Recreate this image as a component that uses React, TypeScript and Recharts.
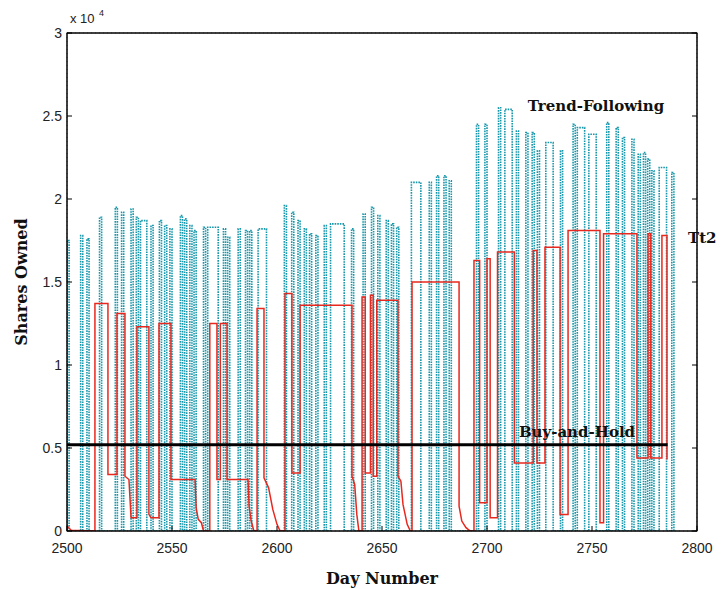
import React from "react";
import { ComposedChart, Line, XAxis, YAxis, CartesianGrid } from "recharts";

// ---- Data ----
const xTicks = [2500, 2550, 2600, 2650, 2700, 2750, 2800];
const yTicks = [0, 5000, 10000, 15000, 20000, 25000, 30000];

// Trend-Following: holding periods (start day, end day, shares held)
const tfStart = [2500, 2506.5, 2509.5, 2515.5, 2523, 2526, 2530.5, 2533, 2535, 2540, 2544, 2546.5, 2549, 2554, 2556, 2558.5, 2560.5, 2565, 2567, 2574.5, 2576.5, 2581.5, 2585, 2587, 2591, 2603.5, 2607, 2610, 2613, 2615.5, 2618.5, 2622.5, 2625.5, 2635.5, 2641, 2645, 2648, 2652, 2654.5, 2657, 2664, 2672.5, 2676, 2679.5, 2682, 2695, 2699, 2705.5, 2708.5, 2714, 2718.5, 2721.5, 2724, 2728, 2735, 2741, 2743, 2748.5, 2757, 2761.5, 2764.5, 2769, 2772, 2774.5, 2776.5, 2778.5, 2782, 2788];
const tfEnd = [2501, 2507.5, 2510.5, 2516.5, 2524, 2527, 2531.5, 2534, 2538, 2541, 2545, 2547.5, 2550, 2555, 2557, 2559.5, 2561.5, 2566, 2572, 2575.5, 2577.5, 2582.5, 2586, 2588, 2595, 2604.5, 2608, 2611, 2614, 2616.5, 2619.5, 2623.5, 2632, 2636.5, 2642, 2646, 2649, 2653, 2655.5, 2658, 2668.5, 2673.5, 2677, 2680.5, 2683, 2696, 2700, 2706.5, 2712, 2715, 2719.5, 2722.5, 2725, 2731.5, 2736, 2742, 2746.5, 2752, 2758, 2762.5, 2765.5, 2770, 2773, 2775.5, 2777.5, 2779.5, 2785.5, 2789];
const tfShares = [17500, 17800, 17600, 18900, 19500, 19200, 19400, 18900, 18700, 18400, 18700, 18400, 18200, 19000, 18800, 18400, 18100, 18300, 18300, 18200, 17700, 18200, 18100, 18100, 18200, 19600, 19200, 18700, 18200, 17900, 17800, 18400, 18500, 18200, 19100, 19500, 19000, 18700, 18500, 18300, 21000, 21000, 21400, 21400, 21100, 24500, 24500, 25500, 25400, 24100, 24000, 24000, 22900, 23400, 22900, 24500, 24300, 23900, 24600, 24300, 23700, 23600, 22700, 22800, 22400, 21700, 21900, 21600];

// Tt2 strategy: shares owned at each turning point
const redDays = [2500, 2502, 2513.3, 2513.3, 2519.5, 2519.5, 2523.8, 2523.8, 2527.6, 2527.6, 2529.5, 2530.5, 2533.3, 2533.3, 2539, 2539, 2540, 2543.8, 2543.8, 2549.5, 2549.5, 2561, 2561.5, 2562.5, 2564, 2565, 2568, 2568, 2571.4, 2571.4, 2573, 2573, 2576.2, 2576.2, 2586.2, 2586.7, 2587.7, 2589, 2590.5, 2590.5, 2593.8, 2593.8, 2596, 2598, 2600, 2601.5, 2603.8, 2603.8, 2607.1, 2607.1, 2611, 2611, 2635.7, 2635.7, 2637, 2638, 2639, 2640.5, 2640.5, 2642, 2642, 2644.5, 2644.5, 2645.8, 2645.8, 2647.5, 2647.5, 2657.6, 2657.6, 2659, 2660, 2662, 2663.5, 2664.3, 2664.3, 2686.7, 2686.7, 2688, 2690, 2692, 2693.8, 2693.8, 2696.5, 2696.5, 2700, 2700, 2701.5, 2701.5, 2705, 2705, 2713, 2713, 2722, 2722, 2723.8, 2723.8, 2727.6, 2727.6, 2734.8, 2734.8, 2738.6, 2738.6, 2753.8, 2753.8, 2755.5, 2755.5, 2771.4, 2771.4, 2776.7, 2776.7, 2778, 2778, 2783.3, 2783.3, 2785.7, 2785.7];
const redShares = [300, 50, 0, 13700, 13700, 3400, 3400, 13100, 13100, 3300, 3100, 800, 800, 12300, 12300, 1000, 800, 800, 12500, 12500, 3100, 3100, 1400, 700, 500, 0, 0, 12500, 12500, 3100, 3100, 12500, 12500, 3100, 3100, 1500, 600, 0, 0, 13400, 13400, 3200, 2600, 1300, 400, 0, 0, 14300, 14300, 3500, 3500, 13600, 13600, 3300, 2800, 1000, 0, 0, 14100, 14100, 3500, 3500, 14200, 14200, 3300, 3300, 13900, 13900, 3300, 3000, 1600, 400, 0, 0, 15000, 15000, 1500, 600, 200, 0, 0, 16300, 16300, 1700, 1700, 16400, 16400, 800, 800, 16800, 16800, 4100, 4100, 16900, 16900, 4100, 4100, 17100, 17100, 1000, 1000, 18100, 18100, 500, 500, 17900, 17900, 4400, 4400, 17900, 17900, 4400, 4400, 17800, 17800, 4300];

// Buy-and-Hold
const bhDays = [2500, 2786];
const bhShares = 5200;

// ---- Derived tables ----
const tfData: { d: number; v: number }[] = [];
tfStart.forEach((s, i) => {
  const e = tfEnd[i];
  const h = tfShares[i];
  tfData.push({ d: s, v: 0 }, { d: s, v: h }, { d: e, v: h }, { d: e, v: 0 });
});
const redData = redDays.map((d, i) => ({ d, v: redShares[i] }));
const bhData = bhDays.map((d) => ({ d, v: bhShares }));

// ---- Layout ----
const W = 727;
const H = 589;
const PL = 67;
const PR = 697;
const PT = 33;
const PB = 531;

const tickFont = "'Liberation Sans', Arial, sans-serif";
const serifFont = "'DejaVu Serif', 'Liberation Serif', serif";

const fmtY = (v: number) => String(v / 10000);

const BottomTick = (props: any) => {
  const { x, payload } = props;
  return (
    <g>
      <line x1={x} x2={x} y1={PB} y2={PB - 5} stroke="#000" strokeWidth={1} />
      <text x={x} y={553} textAnchor="middle" fontFamily={tickFont} fontSize={14} fill="#222">
        {payload.value}
      </text>
    </g>
  );
};
const TopTick = (props: any) => {
  const { x } = props;
  return <line x1={x} x2={x} y1={PT} y2={PT + 5} stroke="#000" strokeWidth={1} />;
};
const LeftTick = (props: any) => {
  const { y, payload } = props;
  return (
    <g>
      <line x1={PL} x2={PL + 5} y1={y} y2={y} stroke="#000" strokeWidth={1} />
      <text x={62} y={y + 5} textAnchor="end" fontFamily={tickFont} fontSize={14} fill="#222">
        {fmtY(payload.value)}
      </text>
    </g>
  );
};
const RightTick = (props: any) => {
  const { y } = props;
  return <line x1={PR - 5} x2={PR} y1={y} y2={y} stroke="#000" strokeWidth={1} />;
};

export default function App() {
  return (
    <div style={{ position: "absolute", left: 0, top: 0, width: W, height: H, background: "#fff" }}>
      <ComposedChart
        width={W}
        height={H}
        margin={{ top: PT - 1, right: W - PR - 1, bottom: 28, left: 0 }}
      >
        <CartesianGrid stroke="#9a9a9a" strokeDasharray="1 3" />
        <XAxis
          xAxisId="b"
          dataKey="d"
          type="number"
          domain={[2500, 2800]}
          ticks={xTicks}
          allowDataOverflow
          height={30}
          stroke="#000"
          tickLine={false}
          tick={<BottomTick />}
          interval={0}
        />
        <XAxis
          xAxisId="t"
          orientation="top"
          type="number"
          domain={[2500, 2800]}
          ticks={xTicks}
          allowDataOverflow
          height={1}
          stroke="#000"
          tickLine={false}
          tick={<TopTick />}
          interval={0}
        />
        <YAxis
          yAxisId="l"
          type="number"
          domain={[0, 30000]}
          ticks={yTicks}
          allowDataOverflow
          width={PL}
          stroke="#000"
          tickLine={false}
          tick={<LeftTick />}
          interval={0}
        />
        <YAxis
          yAxisId="r"
          orientation="right"
          type="number"
          domain={[0, 30000]}
          ticks={yTicks}
          allowDataOverflow
          width={1}
          stroke="#000"
          tickLine={false}
          tick={<RightTick />}
          interval={0}
        />
        <Line
          xAxisId="b"
          yAxisId="l"
          data={tfData}
          dataKey="v"
          type="linear"
          stroke="#1797aa"
          strokeWidth={1.6}
          strokeDasharray="1.6 1"
          dot={false}
          isAnimationActive={false}
        />
        <Line
          xAxisId="b"
          yAxisId="l"
          data={redData}
          dataKey="v"
          type="linear"
          stroke="#e8281e"
          strokeWidth={1.5}
          dot={false}
          isAnimationActive={false}
        />
        <Line
          xAxisId="b"
          yAxisId="l"
          data={bhData}
          dataKey="v"
          type="linear"
          stroke="#000"
          strokeWidth={3}
          dot={false}
          isAnimationActive={false}
        />
      </ComposedChart>
      <svg
        width={W}
        height={H}
        style={{ position: "absolute", left: 0, top: 0, pointerEvents: "none" }}
      >
        <rect x={PL} y={PT} width={PR - PL} height={PB - PT} fill="none" stroke="#000" strokeWidth={1} />
        <text x={70} y={23} fontFamily={tickFont} fontSize={13} fill="#222">x 10</text>
        <text x={99} y={16} fontFamily={tickFont} fontSize={9} fill="#222">4</text>
        <text
          x={21}
          y={282}
          transform="rotate(-90 21 282)"
          textAnchor="middle"
          dominantBaseline="central"
          fontFamily={serifFont}
          fontWeight="bold"
          fontSize={16}
          fill="#111"
        >
          Shares Owned
        </text>
        <text x={382} y={584} textAnchor="middle" fontFamily={serifFont} fontWeight="bold" fontSize={16} fill="#111">
          Day Number
        </text>
        <text x={596} y={111} textAnchor="middle" fontFamily={serifFont} fontWeight="bold" fontSize={15} fill="#111">
          Trend-Following
        </text>
        <text x={688} y={243} fontFamily={serifFont} fontWeight="bold" fontSize={15} fill="#111">
          Tt2
        </text>
        <text x={577} y={437} textAnchor="middle" fontFamily={serifFont} fontWeight="bold" fontSize={15} fill="#111">
          Buy-and-Hold
        </text>
      </svg>
    </div>
  );
}
